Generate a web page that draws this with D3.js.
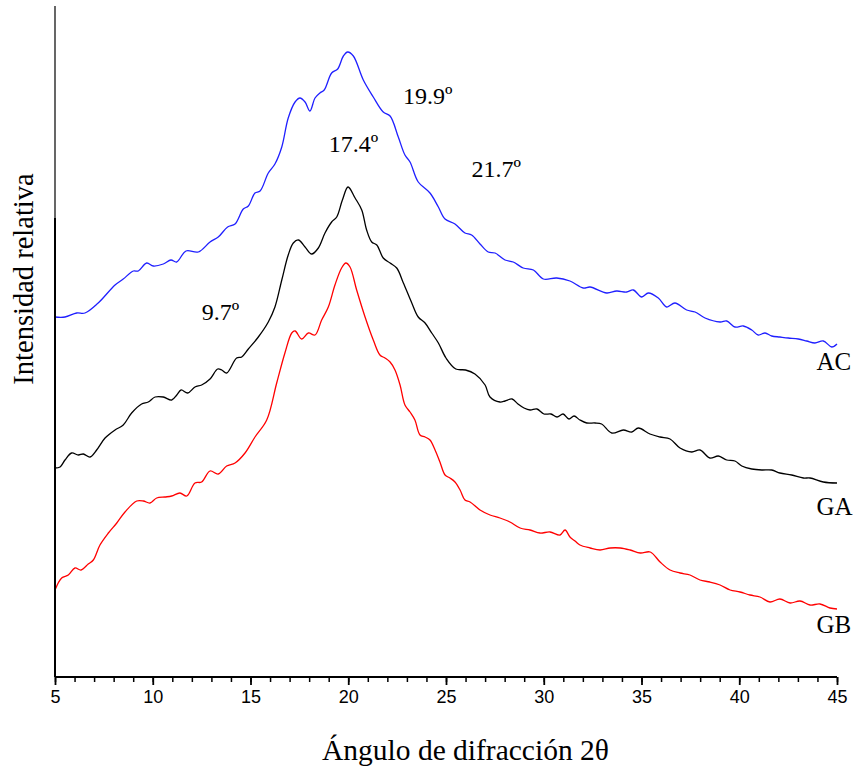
<!DOCTYPE html>
<html>
<head>
<meta charset="utf-8">
<script src="https://cdn.jsdelivr.net/npm/d3@7"></script>
<style>
  html, body { margin: 0; padding: 0; background: #fff; }
  svg { display: block; }
</style>
</head>
<body>
<svg id="chart" width="867" height="772"></svg>
<script>
// X-ray diffraction patterns: [2θ (degrees), relative intensity]
const seriesAC = [[5.00,360],[5.51,360],[6.11,364],[6.53,364],[7.21,374],[8.07,392],[8.49,398],[9.01,406],[9.26,406],[9.69,414],[10.03,411],[10.54,413],[10.93,417],[11.22,415],[11.70,426],[12.33,425],[12.93,435],[13.35,440],[13.83,450],[14.21,453],[14.63,468],[14.89,471],[15.23,484],[15.49,486],[15.91,504],[16.25,513],[16.60,530],[16.93,559],[17.28,575],[17.53,579],[17.79,575],[18.04,566],[18.30,579],[18.55,584],[18.77,587],[19.15,604],[19.46,608],[19.75,621],[19.97,625],[20.26,621],[20.77,597],[21.28,580],[21.79,565],[22.14,561],[22.56,540],[22.90,522],[23.16,515],[23.58,495],[24.18,484],[24.61,470],[24.95,458],[25.46,453],[25.97,444],[26.31,442],[26.74,433],[27.16,425],[27.51,424],[28.02,417],[28.44,415],[28.95,409],[29.47,407],[29.98,398],[30.66,399],[31.34,396],[32.02,389],[32.37,390],[33.22,384],[33.73,386],[34.24,385],[34.58,387],[35.01,380],[35.35,384],[35.86,379],[36.29,370],[36.71,374],[37.31,367],[37.74,365],[38.25,359],[39.02,355],[39.36,356],[39.78,350],[40.21,351],[40.64,347],[40.97,342],[41.32,344],[41.66,341],[42.08,340],[42.51,339],[43.02,338],[43.45,336],[43.87,334],[44.30,336],[44.73,330],[45.00,333]];

const seriesGA = [[5.00,209],[5.26,210],[5.51,217],[5.85,224],[6.19,222],[6.45,223],[6.79,220],[7.13,227],[7.56,239],[8.07,247],[8.49,252],[8.92,264],[9.43,273],[9.77,275],[10.12,280],[10.54,280],[10.97,277],[11.23,282],[11.45,287],[11.79,284],[12.16,290],[12.50,292],[12.93,298],[13.32,308],[13.53,307],[13.78,304],[14.29,319],[14.55,320],[14.89,328],[15.40,340],[15.91,355],[16.25,370],[16.60,397],[16.93,422],[17.19,434],[17.45,437],[17.79,430],[18.13,423],[18.47,429],[18.81,444],[19.15,455],[19.41,460],[19.70,477],[19.99,490],[20.35,479],[20.69,467],[20.94,447],[21.20,435],[21.46,432],[21.79,419],[22.14,414],[22.48,409],[22.82,394],[23.25,374],[23.58,360],[23.93,354],[24.27,344],[24.61,334],[25.00,319],[25.50,308],[26.00,307],[26.48,303],[27.00,292],[27.25,280],[27.76,275],[28.02,276],[28.38,278],[28.68,273],[28.99,269],[29.30,267],[29.65,268],[30.01,263],[30.37,263],[30.68,260],[30.99,263],[31.29,258],[31.55,261],[31.85,257],[32.20,254],[32.62,254],[32.96,253],[33.48,244],[34.07,247],[34.50,245],[34.84,249],[35.43,243],[35.95,240],[36.46,238],[36.97,229],[37.57,225],[37.99,227],[38.50,219],[38.93,221],[39.36,217],[39.78,216],[40.13,211],[40.64,208],[41.15,207],[41.66,207],[42.08,204],[42.68,202],[43.28,199],[43.62,199],[44.30,195],[45.00,194]];

const seriesGB = [[5.00,87],[5.34,99],[5.68,102],[6.02,109],[6.33,107],[6.70,113],[6.96,117],[7.30,132],[7.73,144],[8.16,154],[8.58,165],[9.18,176],[9.52,176],[9.86,174],[10.20,179],[10.63,180],[10.97,181],[11.39,184],[11.74,181],[12.16,194],[12.50,195],[12.93,206],[13.35,203],[13.78,211],[14.21,214],[14.72,224],[15.23,240],[15.83,257],[16.34,294],[16.76,324],[17.11,344],[17.28,346],[17.62,338],[17.96,344],[18.30,342],[18.64,357],[18.98,370],[19.32,392],[19.66,409],[19.88,414],[20.09,410],[20.43,387],[20.86,360],[21.28,337],[21.62,322],[21.88,319],[22.14,315],[22.39,307],[22.65,292],[22.90,272],[23.16,265],[23.41,257],[23.67,242],[23.93,240],[24.18,237],[24.44,227],[24.69,215],[24.95,202],[25.20,199],[25.46,195],[25.72,187],[25.97,177],[26.23,175],[26.74,167],[27.25,162],[27.76,159],[28.27,155],[28.79,149],[29.30,147],[29.81,144],[30.32,145],[30.83,142],[31.09,147],[31.34,140],[31.60,136],[31.85,132],[32.37,129],[32.88,127],[33.40,129],[33.91,129],[34.42,127],[34.94,124],[35.45,125],[35.95,115],[36.46,107],[36.97,104],[37.48,102],[37.99,97],[38.50,95],[39.02,92],[39.53,87],[40.04,85],[40.55,82],[41.06,80],[41.57,75],[42.08,78],[42.60,74],[43.11,76],[43.62,72],[44.13,73],[44.64,69],[45.00,68]];

const seriesNames = ["AC", "GA", "GB"];
const seriesColors = ["#1f1fff", "#000000", "#ff0000"];

// Peak annotations: [label, 2θ position, intensity position]
const peakLabels = [["19.9º", 22.8, 573], ["17.4º", 19.0, 525], ["21.7º", 26.3, 500], ["9.7º", 12.5, 357]];
// Series name labels: [name, 2θ position, intensity position]
const nameLabels = [["AC", 43.95, 307], ["GA", 43.95, 162], ["GB", 43.95, 44]];

const majorTicks = [5, 10, 15, 20, 25, 30, 35, 40, 45];
const minorTicks = d3.range(5, 46, 1);

const svg = d3.select("#chart");
const plotLeft = 55, plotRight = 837, plotBottom = 677, plotTop = 17;

const x = d3.scaleLinear().domain([5, 45]).range([plotLeft, plotRight]);
const y = d3.scaleLinear().domain([0, 660]).range([plotBottom, plotTop]);

const serif = "'Liberation Serif', 'Times New Roman', serif";

// Curves
const line = d3.line()
  .x(d => x(d[0]))
  .y(d => y(d[1]))
  .curve(d3.curveCatmullRom.alpha(0.5));

[seriesAC, seriesGA, seriesGB].forEach((s, i) => {
  svg.append("path")
    .datum(s)
    .attr("fill", "none")
    .attr("stroke", seriesColors[i])
    .attr("stroke-width", 1.3)
    .attr("stroke-linejoin", "round")
    .attr("d", line);
});

// Y axis: thin full-height rule with a heavier lower section
svg.append("line")
  .attr("x1", plotLeft).attr("x2", plotLeft)
  .attr("y1", 6).attr("y2", plotBottom)
  .attr("stroke", "#000").attr("stroke-width", 1.2);
svg.append("line")
  .attr("x1", plotLeft).attr("x2", plotLeft)
  .attr("y1", 218).attr("y2", plotBottom)
  .attr("stroke", "#000").attr("stroke-width", 2);

// X axis: minor ticks, then major ticks with labels
const gMinor = svg.append("g")
  .attr("transform", `translate(0,${plotBottom})`)
  .call(d3.axisBottom(x).tickValues(minorTicks).tickSize(5).tickSizeOuter(0).tickFormat(""));
gMinor.select(".domain").remove();
gMinor.selectAll(".tick line").attr("stroke-width", 1.5);

const gMajor = svg.append("g")
  .attr("transform", `translate(0,${plotBottom})`)
  .call(d3.axisBottom(x).tickValues(majorTicks).tickSize(8).tickSizeOuter(0).tickPadding(5).tickFormat(d3.format("d")));
gMajor.attr("font-size", null).attr("font-family", null);
gMajor.select(".domain")
  .attr("stroke-width", 2)
  .attr("d", `M${plotLeft},0H${plotRight}`);
gMajor.selectAll(".tick line").attr("stroke-width", 1.8);
gMajor.selectAll(".tick text")
  .style("font-family", "'Liberation Sans', Arial, sans-serif")
  .style("font-size", "18px")
  .attr("fill", "#000");

// Axis titles
svg.append("text")
  .attr("x", 322).attr("y", 760)
  .attr("font-family", serif)
  .attr("font-size", 29.5)
  .text("Ángulo de difracción 2θ");

svg.append("text")
  .attr("transform", `translate(33,${279}) rotate(-90)`)
  .attr("text-anchor", "middle")
  .attr("font-family", serif)
  .attr("font-size", 28.5)
  .text("Intensidad relativa");

// Peak position annotations
svg.selectAll("text.peak")
  .data(peakLabels)
  .enter().append("text")
  .attr("class", "peak")
  .attr("x", d => x(d[1]))
  .attr("y", d => y(d[2]))
  .attr("font-family", serif)
  .attr("font-size", 24)
  .text(d => d[0]);

// Series names
svg.selectAll("text.name")
  .data(nameLabels)
  .enter().append("text")
  .attr("class", "name")
  .attr("x", d => x(d[1]))
  .attr("y", d => y(d[2]))
  .attr("font-family", serif)
  .attr("font-size", 25)
  .text(d => d[0]);
</script>
</body>
</html>
